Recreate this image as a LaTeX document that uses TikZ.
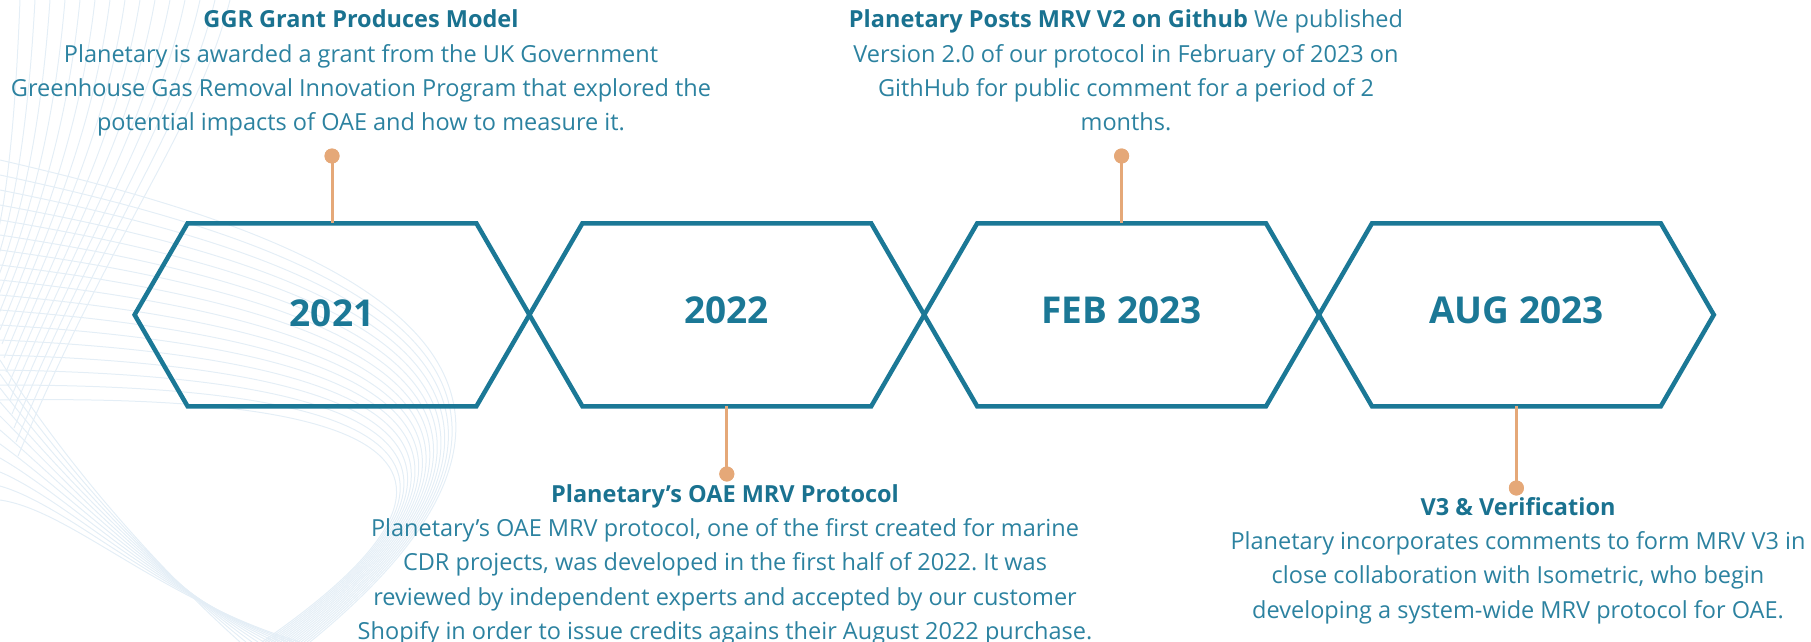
\documentclass[tikz,border=0pt]{standalone}
\usepackage{fontspec}
\setmainfont{Open Sans}
\frenchspacing
\definecolor{hexcol}{RGB}{27,120,150}
\definecolor{titlecol}{RGB}{26,114,144}
\definecolor{bodycol}{RGB}{44,130,160}
\definecolor{pincol}{RGB}{229,168,120}
\definecolor{wavecol}{RGB}{228,238,246}
\newcommand\ttl[1]{{\color{titlecol}\bfseries #1}}
\newcommand\firstline{\rule{0pt}{20pt}}
\begin{document}
\begin{tikzpicture}[x=1pt,y=-1pt,
  hexline/.style={draw=hexcol,line width=4.5pt,line join=miter},
  year/.style={text=hexcol,font=\fontsize{37}{40}\selectfont\bfseries,inner sep=0pt},
  pinline/.style={draw=pincol,line width=3pt},
  pindot/.style={circle,fill=pincol,minimum size=15pt,inner sep=0pt},
  blurb/.style={text=bodycol,align=center,inner sep=0pt,anchor=north,
    font=\fontsize{23.5}{34.3}\selectfont},
  wave/.style={draw=wavecol,line width=1pt}]
\useasboundingbox (0,0) rectangle (1811,642);

% faint mesh ribbon in the lower left background
\begin{scope}
\clip (0,0) rectangle (1811,642);
\foreach \i in {0,...,16} {
  \draw[wave] (0,{160+15*\i}) .. controls (260,{220+11*\i}) and ({680-6*\i},{340+5*\i}) .. ({310-3*\i},642);
}
\foreach \i in {0,...,14} {
  \draw[wave] ({20+15*\i},0) .. controls ({15+13*\i},130) and ({5+8*\i},220) .. ({-10+2*\i},{260+14*\i});
}
\foreach \i in {0,...,10} {
  \draw[wave] (0,{360+14*\i}) .. controls (70,{470+4*\i}) and (160,{570+3*\i}) .. ({240+6*\i},642);
}
\end{scope}

% hexagonal year frames
\foreach \n/\cx in {1/332,2/726.8,3/1121.6,4/1516.4} {
  \coordinate (top\n) at (\cx,223.3);
  \coordinate (bot\n) at (\cx,406.3);
  \draw[hexline] (\cx-197.4,314.8) -- (\cx-144.4,223.3) -- (\cx+144.4,223.3)
    -- (\cx+197.4,314.8) -- (\cx+144.4,406.3) -- (\cx-144.4,406.3) -- cycle;
}
\node[year] (y1) at (332,313) {2021};
\node[year] (y2) at (726.8,310) {2022};
\node[year] (y3) at (1121.6,310) {FEB 2023};
\node[year] (y4) at (1516.4,310) {AUG 2023};

% pins
\node[pindot] (d1) at (332,156) {};
\node[pindot] (d2) at (726.8,474) {};
\node[pindot] (d3) at (1121.6,156) {};
\node[pindot] (d4) at (1516.4,488) {};
\draw[pinline] (d1.center) -- (top1);
\draw[pinline] (d2.center) -- (bot2);
\draw[pinline] (d3.center) -- (top3);
\draw[pinline] (d4.center) -- (bot4);
\node[pindot] at (d1) {};
\node[pindot] at (d2) {};
\node[pindot] at (d3) {};
\node[pindot] at (d4) {};

% milestone descriptions
\node[blurb] (b1) at (361,7.7) {\firstline\ttl{GGR Grant Produces Model}\\
Planetary is awarded a grant from the UK Government\\
Greenhouse Gas Removal Innovation Program that explored the\\
potential impacts of OAE and how to measure it.};

\node[blurb] (b2) at (1126,7.5) {\firstline\ttl{Planetary Posts MRV V2 on Github} We published\\
Version 2.0 of our protocol in February of 2023 on\\
GithHub for public comment for a period of 2\\
months.};

\node[blurb] (b3) at (725,482) {\firstline\ttl{Planetary’s OAE MRV Protocol}\\
Planetary’s OAE MRV protocol, one of the first created for marine\\
CDR projects, was developed in the first half of 2022. It was\\
reviewed by independent experts and accepted by our customer\\
Shopify in order to issue credits agains their August 2022 purchase.};

\node[blurb] (b4) at (1518,495) {\firstline\ttl{V3 \& Verification}\\
Planetary incorporates comments to form MRV V3 in\\
close collaboration with Isometric, who begin\\
developing a system-wide MRV protocol for OAE.};
\end{tikzpicture}
\end{document}
